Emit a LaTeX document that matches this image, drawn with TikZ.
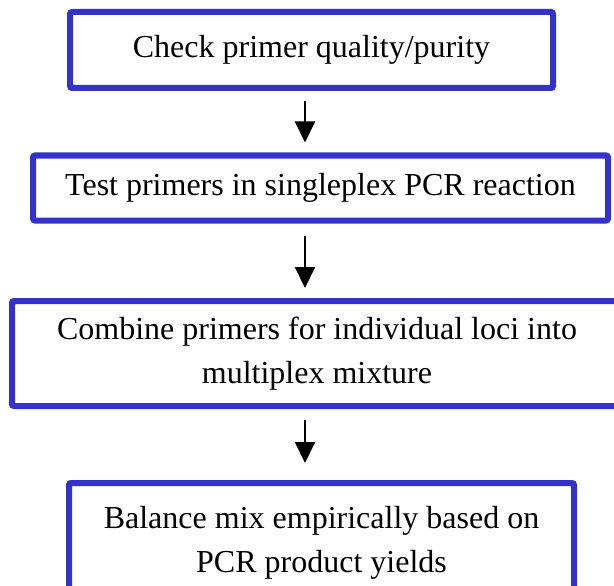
\documentclass[tikz,border=0pt]{standalone}
\usepackage{fontspec}
\setmainfont{Liberation Serif}
\usetikzlibrary{arrows.meta}
\definecolor{cBox}{HTML}{3333CC}
\tikzset{
  stepbox/.style={draw=cBox,line width=6pt,rounded corners=2pt,align=center,inner sep=0pt,font=\rmfamily\fontsize{32}{44}\selectfont},
  flow/.style={line width=2pt,-{Triangle[width=20pt,length=21pt]}}
}
\begin{document}
\begin{tikzpicture}[x=1pt,y=-1pt]
  \clip (0,0) rectangle (614,586);
  \node[stepbox,minimum width=483pt,minimum height=76pt] (check) at (311.5,50) {Check primer quality/purity};
  \node[stepbox,minimum width=575pt,minimum height=65pt] (test) at (320.5,188) {Test primers in singleplex PCR reaction};
  \node[stepbox,minimum width=610pt,minimum height=105pt] (combine) at (317,353.5) {Combine primers for individual loci into\\multiplex mixture};
  \node[stepbox,minimum width=505pt,minimum height=120pt] (balance) at (321.5,543) {Balance mix empirically based on\\PCR product yields};
  % arrows all sit on one column
  \coordinate (col) at (305,0);
  \draw[flow,shorten <=10pt,shorten >=10pt] (check.south -| col) -- (test.north -| col);
  \draw[flow,shorten <=12pt,shorten >=10pt] (test.south -| col) -- (combine.north -| col);
  \draw[flow,shorten <=11pt,shorten >=17pt] (combine.south -| col) -- (balance.north -| col);
\end{tikzpicture}
\end{document}
